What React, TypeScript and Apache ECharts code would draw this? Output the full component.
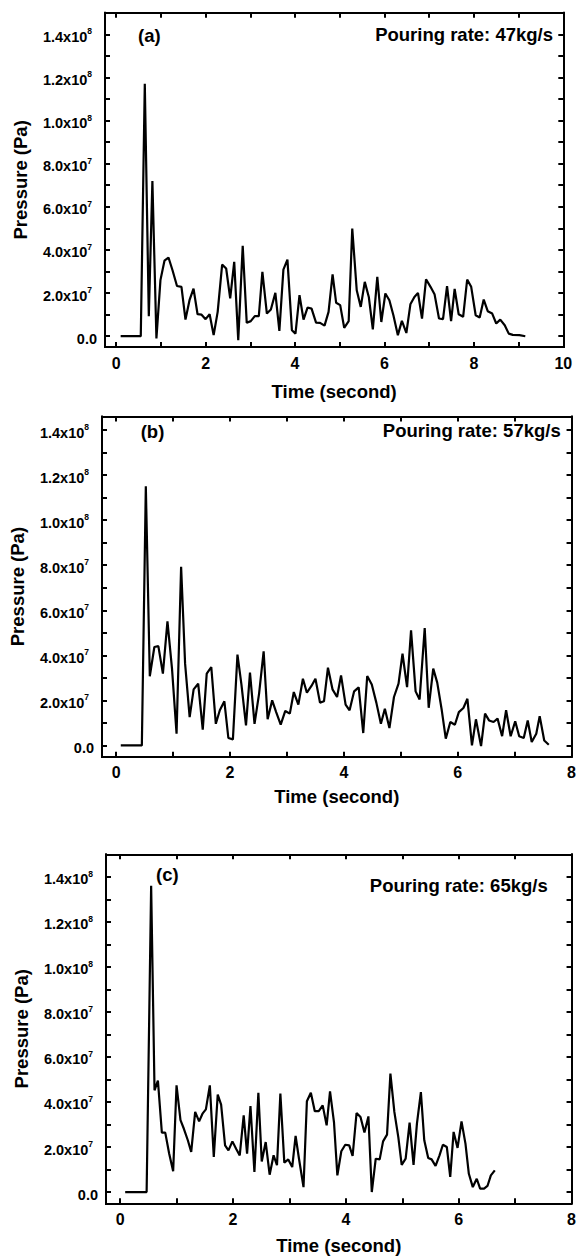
import React, { useEffect, useRef } from "react";
import * as echarts from "echarts";

// Panel (a): pouring rate 47 kg/s
const timeA = [0.1, 0.55, 0.64, 0.73, 0.81, 0.9, 0.99, 1.08, 1.17, 1.26, 1.36, 1.46, 1.55, 1.64, 1.73, 1.82, 1.91, 2.0, 2.09, 2.18, 2.27, 2.37, 2.46, 2.55, 2.64, 2.73, 2.83, 2.92, 3.01, 3.1, 3.19, 3.27, 3.37, 3.46, 3.56, 3.65, 3.74, 3.83, 3.93, 4.01, 4.1, 4.19, 4.28, 4.37, 4.47, 4.56, 4.66, 4.75, 4.84, 4.92, 5.01, 5.1, 5.2, 5.28, 5.38, 5.47, 5.56, 5.65, 5.74, 5.84, 5.93, 6.02, 6.11, 6.2, 6.3, 6.39, 6.49, 6.58, 6.67, 6.75, 6.84, 6.93, 7.03, 7.12, 7.22, 7.31, 7.4, 7.49, 7.57, 7.66, 7.76, 7.85, 7.94, 8.04, 8.13, 8.22, 8.31, 8.41, 8.5, 8.59, 8.69, 8.78, 8.87, 9.02, 9.15];
const pressureA = [0, 0, 1.17e8, 9.3e6, 7.2e7, -1.0e6, 2.6e7, 3.5e7, 3.65e7, 3.06e7, 2.33e7, 2.29e7, 7.7e6, 1.67e7, 2.21e7, 1.02e7, 1.0e7, 7.9e6, 1.02e7, 5e5, 1.13e7, 3.32e7, 3.14e7, 1.75e7, 3.45e7, -1.8e6, 4.19e7, 6.2e6, 7.0e6, 9.3e6, 9.3e6, 2.98e7, 1.05e7, 1.24e7, 2.01e7, 2.5e6, 3.09e7, 3.55e7, 2.8e6, 1.2e6, 1.9e7, 7.7e6, 1.33e7, 1.28e7, 6.3e6, 6.2e6, 4.9e6, 1.13e7, 2.87e7, 1.55e7, 1.44e7, 3.9e6, 7.0e6, 4.99e7, 2.13e7, 1.36e7, 2.52e7, 1.82e7, 3.2e6, 2.75e7, 6.6e6, 1.98e7, 1.67e7, 9.7e6, 5e5, 7.1e6, 1.5e6, 1.48e7, 1.82e7, 2.01e7, 8.2e6, 2.64e7, 2.29e7, 1.95e7, 8.2e6, 7.9e6, 2.32e7, 7.0e6, 2.19e7, 1.02e7, 9.0e6, 2.63e7, 2.29e7, 9.7e6, 8.7e6, 1.7e7, 1.16e7, 1.05e7, 5.9e6, 7.7e6, 5.1e6, 1.2e6, 6e5, 5e5, 0];

// Panel (b): pouring rate 57 kg/s
const timeB = [0.08, 0.45, 0.52, 0.59, 0.67, 0.74, 0.82, 0.9, 0.98, 1.06, 1.14, 1.21, 1.29, 1.36, 1.44, 1.52, 1.59, 1.67, 1.75, 1.82, 1.9, 1.97, 2.05, 2.13, 2.2, 2.28, 2.35, 2.43, 2.51, 2.59, 2.66, 2.74, 2.81, 2.89, 2.97, 3.05, 3.12, 3.2, 3.28, 3.35, 3.43, 3.5, 3.58, 3.65, 3.72, 3.8, 3.88, 3.95, 4.03, 4.1, 4.18, 4.26, 4.34, 4.41, 4.49, 4.57, 4.65, 4.72, 4.8, 4.88, 4.96, 5.03, 5.11, 5.18, 5.26, 5.33, 5.42, 5.49, 5.57, 5.64, 5.72, 5.79, 5.87, 5.95, 6.02, 6.1, 6.17, 6.25, 6.32, 6.41, 6.48, 6.55, 6.63, 6.7, 6.78, 6.85, 6.93, 7.01, 7.08, 7.16, 7.23, 7.3, 7.38, 7.44, 7.52, 7.6];
const pressureB = [0, 0, 1.15e8, 3.07e7, 4.37e7, 4.41e7, 3.19e7, 5.51e7, 3.41e7, 5.2e6, 7.93e7, 3.63e7, 1.26e7, 2.49e7, 2.74e7, 7.0e6, 3.19e7, 3.48e7, 9.6e6, 1.56e7, 1.96e7, 3.3e6, 2.7e6, 4.03e7, 2.7e7, 8.9e6, 3.23e7, 9.6e6, 2.3e7, 4.18e7, 1.16e7, 2.0e7, 1.48e7, 9.2e6, 1.53e7, 1.41e7, 2.37e7, 1.81e7, 2.96e7, 2.34e7, 2.64e7, 2.96e7, 1.9e7, 1.96e7, 3.45e7, 2.49e7, 2.15e7, 3.11e7, 1.81e7, 1.56e7, 2.4e7, 2.58e7, 5.5e6, 3.08e7, 2.7e7, 1.9e7, 9.6e6, 1.63e7, 7.7e6, 2.15e7, 2.74e7, 4.07e7, 2.59e7, 5.11e7, 2.4e7, 2.04e7, 5.21e7, 1.67e7, 3.41e7, 2.79e7, 1.56e7, 3.0e6, 1.04e7, 9.2e6, 1.48e7, 1.66e7, 2.07e7, 0, 1.16e7, -3e5, 1.41e7, 1.11e7, 1.04e7, 1.19e7, 4.1e6, 1.56e7, 4.1e6, 1.07e7, 4.1e6, 3.3e6, 1.11e7, 1.5e6, 5.2e6, 1.3e7, 2.2e6, 3e5];

// Panel (c): pouring rate 65 kg/s
const timeC = [0.09, 0.47, 0.55, 0.61, 0.67, 0.74, 0.8, 0.87, 0.94, 1.0, 1.07, 1.13, 1.2, 1.26, 1.33, 1.4, 1.46, 1.52, 1.59, 1.66, 1.73, 1.79, 1.86, 1.92, 1.99, 2.06, 2.12, 2.19, 2.25, 2.31, 2.38, 2.45, 2.51, 2.58, 2.65, 2.72, 2.78, 2.84, 2.91, 2.98, 3.05, 3.11, 3.17, 3.25, 3.31, 3.38, 3.45, 3.52, 3.59, 3.66, 3.72, 3.79, 3.85, 3.92, 3.99, 4.06, 4.12, 4.19, 4.26, 4.33, 4.4, 4.46, 4.53, 4.6, 4.66, 4.73, 4.79, 4.86, 4.93, 4.99, 5.06, 5.13, 5.2, 5.26, 5.33, 5.39, 5.46, 5.52, 5.59, 5.66, 5.72, 5.79, 5.85, 5.91, 5.98, 6.05, 6.12, 6.18, 6.25, 6.32, 6.38, 6.45, 6.51, 6.57, 6.64];
const pressureC = [0, 0, 1.36e8, 4.52e7, 4.95e7, 2.64e7, 2.64e7, 1.7e7, 9.2e6, 4.74e7, 3.19e7, 2.81e7, 2.3e7, 1.78e7, 3.56e7, 3.14e7, 3.48e7, 3.67e7, 4.74e7, 1.56e7, 4.33e7, 3.88e7, 2.07e7, 1.85e7, 2.25e7, 1.9e7, 1.63e7, 3.41e7, 1.7e7, 3.82e7, 8.9e6, 4.41e7, 1.36e7, 2.22e7, 7.7e6, 1.63e7, 1.19e7, 4.37e7, 1.3e7, 1.45e7, 1.11e7, 2.49e7, 1.48e7, 2.2e6, 4.03e7, 4.41e7, 3.59e7, 3.59e7, 3.85e7, 2.96e7, 4.47e7, 3.11e7, 7.4e6, 1.81e7, 2.1e7, 2.07e7, 1.6e7, 3.51e7, 3.33e7, 2.64e7, 3.36e7, 0, 1.48e7, 1.45e7, 2.25e7, 2.55e7, 5.26e7, 3.56e7, 2.44e7, 1.21e7, 1.48e7, 3.08e7, 1.21e7, 3.04e7, 4.44e7, 2.3e7, 1.51e7, 1.45e7, 1.16e7, 1.63e7, 2.1e7, 2.0e7, 6.7e6, 2.67e7, 1.96e7, 3.14e7, 2.15e7, 8.1e6, 2.2e6, 5.9e6, 1.5e6, 1.5e6, 2.7e6, 7.4e6, 9.6e6];

// Tick values
const yLabelValues = [0, 2e7, 4e7, 6e7, 8e7, 1e8, 1.2e8, 1.4e8];
const yTickValues = [0, 1e7, 2e7, 3e7, 4e7, 5e7, 6e7, 7e7, 8e7, 9e7, 1e8, 1.1e8, 1.2e8, 1.3e8, 1.4e8];
const xLabelValuesA = [0, 2, 4, 6, 8, 10];
const xTickValuesA = [0, 1, 2, 3, 4, 5, 6, 7, 8, 9, 10];
const xLabelValuesBC = [0, 2, 4, 6, 8];
const xTickValuesBC = [0, 1, 2, 3, 4, 5, 6, 7, 8];

const panelLabels = ["(a)", "(b)", "(c)"];
const rateLabels = ["Pouring rate: 47kg/s", "Pouring rate: 57kg/s", "Pouring rate: 65kg/s"];
const xTitle = "Time (second)";
const yTitle = "Pressure (Pa)";

const FONT = '"Liberation Sans", Arial, Helvetica, sans-serif';

const panels = [
  {
    times: timeA, values: pressureA, xLabels: xLabelValuesA, xTicks: xTickValuesA,
    xMin: -0.25, xMax: 10, yMin: -5e6, yMax: 1.5e8,
    frame: { left: 105, top: 12.7, right: 563.3, bottom: 347 },
    nameGapX: 35,
    tag: { x: 138, y: 35 }, rate: { x: 553, y: 34 },
  },
  {
    times: timeB, values: pressureB, xLabels: xLabelValuesBC, xTicks: xTickValuesBC,
    xMin: -0.25, xMax: 8, yMin: -5e6, yMax: 1.46e8,
    frame: { left: 100.7, top: 416.5, right: 572, bottom: 756.7 },
    nameGapX: 30,
    tag: { x: 140.7, y: 431 }, rate: { x: 560.7, y: 430 },
  },
  {
    times: timeC, values: pressureC, xLabels: xLabelValuesBC, xTicks: xTickValuesBC,
    xMin: -0.25, xMax: 8, yMin: -5e6, yMax: 1.5e8,
    frame: { left: 106, top: 854.3, right: 576.7, bottom: 1203.3 },
    nameGapX: 33,
    tag: { x: 156, y: 874 }, rate: { x: 547.7, y: 885 },
  },
];

function yFormatter(v: number) {
  if (v === 0) return "{b|0.0}";
  const e = Math.floor(Math.log10(Math.abs(v)) + 1e-9);
  const m = v / Math.pow(10, e);
  return `{b|${m.toFixed(1)}x10}{s|${e}}`;
}

function frameLine(): any {
  return { show: true, onZero: false, lineStyle: { color: "#000", width: 2, cap: "square" } };
}
function frameTick(values: number[]): any {
  return { show: true, inside: true, length: 5, lineStyle: { color: "#000", width: 2 }, customValues: values };
}

export default function App() {
  const ref = useRef<HTMLDivElement>(null);
  useEffect(() => {
    if (!ref.current) return;
    const chart = echarts.init(ref.current, undefined, { renderer: "svg" });
    const grids: any[] = [];
    const xAxes: any[] = [];
    const yAxes: any[] = [];
    const series: any[] = [];
    const graphics: any[] = [];
    panels.forEach((p, i) => {
      const f = p.frame;
      grids.push({ left: f.left, top: f.top, width: f.right - f.left, height: f.bottom - f.top });
      const xi = xAxes.length;
      const yi = yAxes.length;
      xAxes.push({
        type: "value", gridIndex: i, position: "bottom", min: p.xMin, max: p.xMax,
        axisLine: frameLine(), axisTick: frameTick(p.xTicks), splitLine: { show: false },
        axisLabel: { show: true, customValues: p.xLabels, margin: 8, fontSize: 16, fontWeight: "bold", color: "#000", fontFamily: FONT },
        name: xTitle, nameLocation: "middle", nameGap: p.nameGapX,
        nameTextStyle: { fontSize: 18.5, fontWeight: "bold", color: "#000", fontFamily: FONT },
      });
      xAxes.push({
        type: "value", gridIndex: i, position: "top", min: p.xMin, max: p.xMax,
        axisLine: frameLine(), axisTick: frameTick(p.xTicks), splitLine: { show: false }, axisLabel: { show: false },
      });
      yAxes.push({
        type: "value", gridIndex: i, position: "left", min: p.yMin, max: p.yMax,
        axisLine: frameLine(), axisTick: frameTick(yTickValues), splitLine: { show: false },
        axisLabel: {
          show: true, customValues: yLabelValues, margin: 8, formatter: yFormatter,
          rich: {
            b: { fontSize: 14.5, fontWeight: "bold", color: "#000", fontFamily: FONT, lineHeight: 15, padding: [5, 0, 0, 0] },
            s: { fontSize: 8.5, fontWeight: "bold", color: "#000", fontFamily: FONT, lineHeight: 9, verticalAlign: "top", padding: [0, 5, 0, 0] },
          },
        },
        name: yTitle, nameLocation: "middle", nameGap: 75,
        nameTextStyle: { fontSize: 18.5, fontWeight: "bold", color: "#000", fontFamily: FONT },
      });
      yAxes.push({
        type: "value", gridIndex: i, position: "right", min: p.yMin, max: p.yMax,
        axisLine: frameLine(), axisTick: frameTick(yTickValues), splitLine: { show: false }, axisLabel: { show: false },
      });
      series.push({
        type: "line", xAxisIndex: xi, yAxisIndex: yi,
        data: p.times.map((t, k) => [t, p.values[k]]),
        showSymbol: false, symbol: "none",
        lineStyle: { color: "#000", width: 2.2 }, itemStyle: { color: "#000" },
      });
      graphics.push({
        type: "text", x: p.tag.x, y: p.tag.y,
        style: { text: panelLabels[i], fill: "#000", font: `bold 18.5px ${FONT}`, textAlign: "left", textVerticalAlign: "middle" },
      });
      graphics.push({
        type: "text", x: p.rate.x, y: p.rate.y,
        style: { text: rateLabels[i], fill: "#000", font: `bold 18.5px ${FONT}`, textAlign: "right", textVerticalAlign: "middle" },
      });
    });
    chart.setOption({
      animation: false,
      grid: grids,
      xAxis: xAxes,
      yAxis: yAxes,
      series,
      graphic: graphics,
    });
    return () => chart.dispose();
  }, []);
  return <div ref={ref} style={{ position: "absolute", left: 0, top: 0, width: 579, height: 1260 }} />;
}
